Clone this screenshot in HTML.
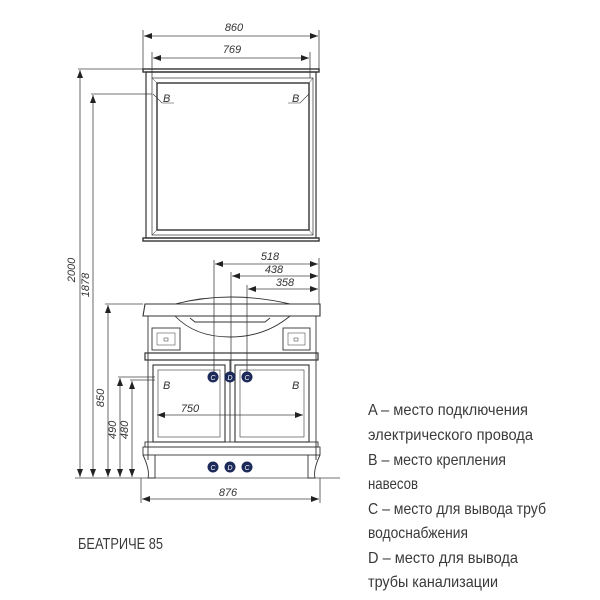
<!DOCTYPE html>
<html><head><meta charset="utf-8"><style>
html,body{margin:0;padding:0;background:#fff;}
svg{display:block;}
.t{font-family:"Liberation Sans Narrow","Liberation Sans",sans-serif;fill:#3a3a3a;}
.d{font-family:"Liberation Sans Narrow","Liberation Sans",sans-serif;font-style:italic;fill:#333;font-size:11px;}
</style></head><body>
<svg width="600" height="600" viewBox="0 0 600 600" xmlns="http://www.w3.org/2000/svg">
<defs>
<marker id="a" markerWidth="8" markerHeight="6" refX="8" refY="3" orient="auto-start-reverse" markerUnits="userSpaceOnUse"><path d="M0,0 L8,3 L0,6 z" fill="#222"/></marker>
</defs>
<g stroke="#444" stroke-width="0.8" fill="none">
<line x1="143" y1="30" x2="143" y2="69"/><line x1="319" y1="30" x2="319" y2="69"/>
<line x1="144" y1="36" x2="318" y2="36" marker-start="url(#a)" marker-end="url(#a)"/>
<line x1="152" y1="52" x2="152" y2="78"/><line x1="310" y1="52" x2="310" y2="78"/>
<line x1="153" y1="58" x2="309" y2="58" marker-start="url(#a)" marker-end="url(#a)"/>
<line x1="78" y1="69" x2="143" y2="69"/><line x1="91" y1="94" x2="152" y2="94"/>
<line x1="80" y1="70" x2="80" y2="477" marker-start="url(#a)" marker-end="url(#a)"/>
<line x1="93" y1="95" x2="93" y2="477" marker-start="url(#a)" marker-end="url(#a)"/>
<line x1="75" y1="478" x2="340" y2="478"/>
<line x1="105" y1="304" x2="143" y2="304"/>
<line x1="108" y1="305" x2="108" y2="477" marker-start="url(#a)" marker-end="url(#a)"/>
<line x1="118" y1="377" x2="155" y2="377"/>
<line x1="120" y1="378" x2="120" y2="477" marker-start="url(#a)" marker-end="url(#a)"/>
<line x1="130" y1="380" x2="155" y2="380"/>
<line x1="132" y1="381" x2="132" y2="477" marker-start="url(#a)" marker-end="url(#a)"/>
<line x1="214" y1="260" x2="214" y2="372"/><line x1="231" y1="272" x2="231" y2="372"/><line x1="247" y1="285" x2="247" y2="372"/>
<line x1="319" y1="258" x2="319" y2="304"/>
<line x1="215" y1="264" x2="318" y2="264" marker-start="url(#a)" marker-end="url(#a)"/>
<line x1="232" y1="276" x2="318" y2="276" marker-start="url(#a)" marker-end="url(#a)"/>
<line x1="248" y1="289" x2="318" y2="289" marker-start="url(#a)" marker-end="url(#a)"/>
<line x1="157" y1="415" x2="303" y2="415" marker-start="url(#a)" marker-end="url(#a)"/>
<line x1="141" y1="478" x2="141" y2="503"/><line x1="320" y1="478" x2="320" y2="503"/>
<line x1="142" y1="499" x2="319" y2="499" marker-start="url(#a)" marker-end="url(#a)"/>
</g>
<g stroke="#333" fill="none">
<rect x="143" y="69" width="176" height="3" stroke-width="1.4"/>
<rect x="146" y="72" width="170" height="166" stroke-width="1.2"/>
<rect x="152" y="78" width="161" height="157" stroke-width="0.7"/>
<rect x="157" y="83" width="152" height="147" stroke-width="1.4"/>
<line x1="152" y1="78" x2="157" y2="83" stroke-width="0.5"/><line x1="313" y1="78" x2="309" y2="83" stroke-width="0.5"/>
<line x1="152" y1="235" x2="157" y2="230" stroke-width="0.5"/><line x1="313" y1="235" x2="309" y2="230" stroke-width="0.5"/>
<rect x="143" y="238" width="176" height="3" stroke-width="1.4"/>
<path d="M153,94 L162,103 L174,103 M309,94 L300,103 L288,103" stroke-width="0.6"/>
</g>
<g stroke="#333" fill="none" stroke-width="0.9">
<path d="M145,304 L320,304 L320,316 L143,316 Z" stroke-width="1.1"/>
<path d="M175,304 Q230,290 290,304"/>
<path d="M175,316 Q195,337 230,337 Q265,337 290,316"/>
<path d="M190,318 L195,322 L265,322 L270,318"/>
<line x1="148" y1="316" x2="148" y2="460"/><line x1="316" y1="316" x2="316" y2="460"/>
<rect x="152" y="328" width="28" height="22"/><rect x="157" y="333" width="18" height="12" stroke-width="0.5"/><rect x="164" y="338" width="4" height="3" stroke-width="0.5"/>
<rect x="283" y="328" width="27" height="22"/><rect x="288" y="333" width="17" height="12" stroke-width="0.5"/><rect x="294" y="338" width="4" height="3" stroke-width="0.5"/>
<rect x="145" y="353" width="173" height="7" stroke-width="1.2"/>
<rect x="153" y="365" width="72" height="77" stroke-width="1.1"/>
<rect x="158" y="370" width="62" height="67" stroke-width="0.6"/>
<rect x="235" y="365" width="74" height="77" stroke-width="1.1"/>
<rect x="240" y="370" width="64" height="67" stroke-width="0.6"/>
<line x1="230" y1="360" x2="230" y2="442"/>
<rect x="145" y="442" width="173" height="5"/>
<rect x="143" y="447" width="177" height="8"/>
<path d="M143,455 Q150,470 148,478 L155,478 L155,455"/>
<path d="M320,455 Q313,470 315,478 L308,478 L308,455"/>
</g>
<g fill="#1c2a5a">
<circle cx="213" cy="377" r="5.5"/><circle cx="230" cy="377" r="5.5"/><circle cx="247" cy="377" r="5.5"/>
<circle cx="213" cy="467" r="5.5"/><circle cx="230" cy="467" r="5.5"/><circle cx="247" cy="467" r="5.5"/>
</g>
<g font-family="Liberation Sans,sans-serif" font-size="7" font-style="italic" fill="#fff" text-anchor="middle">
<text x="213" y="380">C</text><text x="230" y="380">D</text><text x="247" y="380">C</text>
<text x="213" y="470">C</text><text x="230" y="470">D</text><text x="247" y="470">C</text>
</g>
<g class="d">
<text x="234" y="31" text-anchor="middle">860</text>
<text x="232" y="53" text-anchor="middle">769</text>
<text x="163" y="102">B</text><text x="292" y="102">B</text>
<text x="163" y="389">B</text><text x="292" y="389">B</text>
<text x="270" y="260" text-anchor="middle">518</text>
<text x="274" y="273" text-anchor="middle">438</text>
<text x="285" y="286" text-anchor="middle">358</text>
<text x="190" y="412" text-anchor="middle">750</text>
<text x="228" y="496" text-anchor="middle">876</text>
<text transform="translate(75,270) rotate(-90)" text-anchor="middle">2000</text>
<text transform="translate(89,285) rotate(-90)" text-anchor="middle">1878</text>
<text transform="translate(104,398) rotate(-90)" text-anchor="middle">850</text>
<text transform="translate(116,430) rotate(-90)" text-anchor="middle">490</text>
<text transform="translate(128,430) rotate(-90)" text-anchor="middle">480</text>
</g>
<g class="t" font-size="16">
<text x="368" y="415" textLength="160" lengthAdjust="spacingAndGlyphs">A – место подключения</text>
<text x="368" y="440" textLength="165" lengthAdjust="spacingAndGlyphs">электрического провода</text>
<text x="368" y="465" textLength="138" lengthAdjust="spacingAndGlyphs">B – место крепления</text>
<text x="368" y="489" textLength="50" lengthAdjust="spacingAndGlyphs">навесов</text>
<text x="368" y="514" textLength="178" lengthAdjust="spacingAndGlyphs">C – место для вывода труб</text>
<text x="368" y="538" textLength="100" lengthAdjust="spacingAndGlyphs">водоснабжения</text>
<text x="368" y="563" textLength="150" lengthAdjust="spacingAndGlyphs">D – место для вывода</text>
<text x="368" y="587" textLength="130" lengthAdjust="spacingAndGlyphs">трубы канализации</text>
<text x="78" y="549" textLength="85" lengthAdjust="spacingAndGlyphs">БЕАТРИЧЕ 85</text>
</g>
</svg>
</body></html>
